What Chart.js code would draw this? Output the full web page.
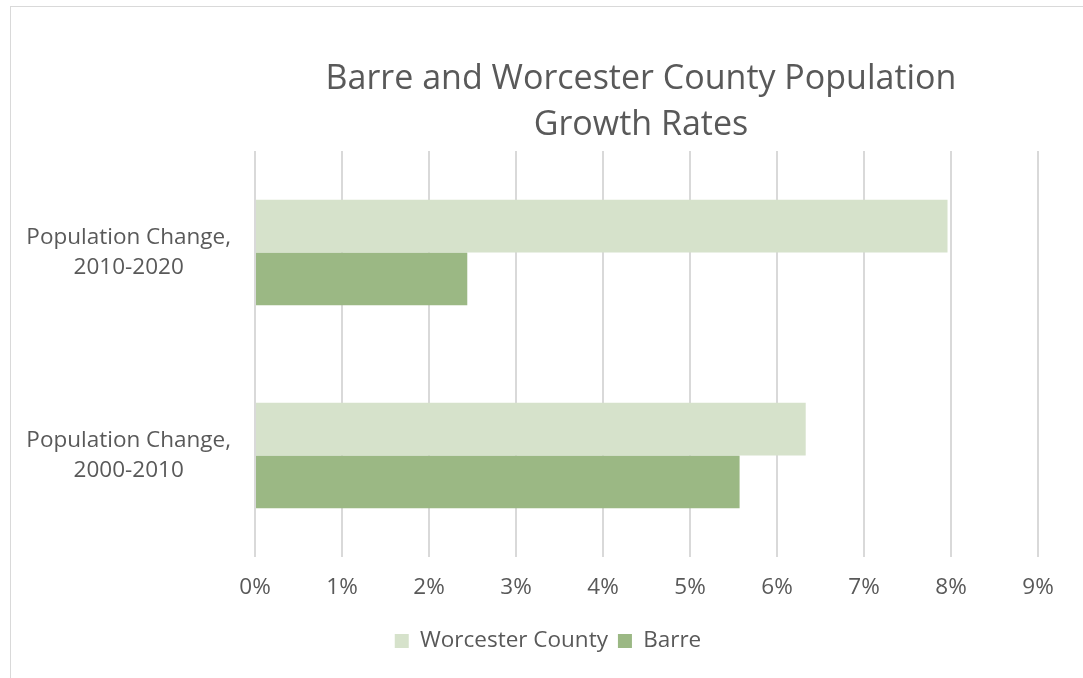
<!DOCTYPE html>
<html>
<head>
<meta charset="utf-8">
<script src="https://cdn.jsdelivr.net/npm/chart.js@4/dist/chart.umd.min.js"></script>
<style>
  html, body { margin: 0; padding: 0; background: #ffffff; }
  #wrap { position: relative; width: 1083px; height: 678px; }
  canvas { display: block; }
</style>
</head>
<body>
<div id="wrap"><canvas id="chart" width="1083" height="678"></canvas></div>
<script>
// Categories (top to bottom) and series values, in percent
const categories = [
  ['Population Change,', '2010-2020'],
  ['Population Change,', '2000-2010']
];
const worcesterCounty = [7.96, 6.33];
const barre = [2.44, 5.57];
const seriesNames = ['Worcester County', 'Barre'];
const titleLines = ['Barre and Worcester County Population', 'Growth Rates'];
const xMin = 0, xMax = 9, xStep = 1;

const TEXT = '#595959';
const GRID = '#d9d9d9';
const FONT = "'Open Sans', 'Liberation Sans', sans-serif";

// light frame around the chart
const framePlugin = {
  id: 'frame',
  beforeDraw(chart) {
    const c = chart.ctx;
    c.save();
    c.fillStyle = '#ffffff';
    c.fillRect(0, 0, chart.width, chart.height);
    c.strokeStyle = GRID;
    c.lineWidth = 1;
    c.strokeRect(10.5, 6.5, chart.width + 20, chart.height + 20);
    c.restore();
  }
};

// horizontal placement of the title and legend blocks
const placementPlugin = {
  id: 'placement',
  afterLayout(chart) {
    const shift = (box, centerX) => {
      if (!box) return;
      const d = centerX - (box.left + box.right) / 2;
      box.left += d;
      box.right += d;
    };
    shift(chart.titleBlock, 641);
    shift(chart.legend, 548);
  }
};

new Chart(document.getElementById('chart'), {
  type: 'bar',
  data: {
    labels: categories,
    datasets: [
      { label: seriesNames[0], data: worcesterCounty, backgroundColor: '#d6e2cb' },
      { label: seriesNames[1], data: barre, backgroundColor: '#9bb884' }
    ]
  },
  options: {
    indexAxis: 'y',
    responsive: false,
    animation: false,
    devicePixelRatio: 1,
    layout: { padding: { top: 0, left: 0, right: 45, bottom: 15.75 } },
    datasets: { bar: { categoryPercentage: 0.52, barPercentage: 1.0 } },
    scales: {
      x: {
        min: xMin, max: xMax,
        ticks: {
          stepSize: xStep,
          color: TEXT,
          font: { family: FONT, size: 22.5 },
          padding: 17.5,
          callback: v => v + '%'
        },
        grid: { color: GRID, lineWidth: 2, drawTicks: false },
        border: { display: false },
        afterFit(scale) { scale.height = 62.75; }
      },
      y: {
        ticks: {
          color: TEXT,
          font: { family: FONT, size: 22.5, lineHeight: '30px' },
          crossAlign: 'center',
          padding: 24
        },
        grid: { display: false, drawTicks: false },
        border: { display: false },
        afterFit(scale) { scale.width = 255; }
      }
    },
    plugins: {
      title: {
        display: true,
        text: titleLines,
        color: TEXT,
        font: { family: FONT, size: 34, weight: 'normal', lineHeight: '46px' },
        padding: { top: 56, bottom: 3 }
      },
      legend: {
        position: 'bottom',
        labels: {
          color: TEXT,
          font: { family: FONT, size: 22.5 },
          boxWidth: 14,
          boxHeight: 14,
          padding: 10
        }
      },
      tooltip: { enabled: false }
    }
  },
  plugins: [framePlugin, placementPlugin]
});
</script>
</body>
</html>
